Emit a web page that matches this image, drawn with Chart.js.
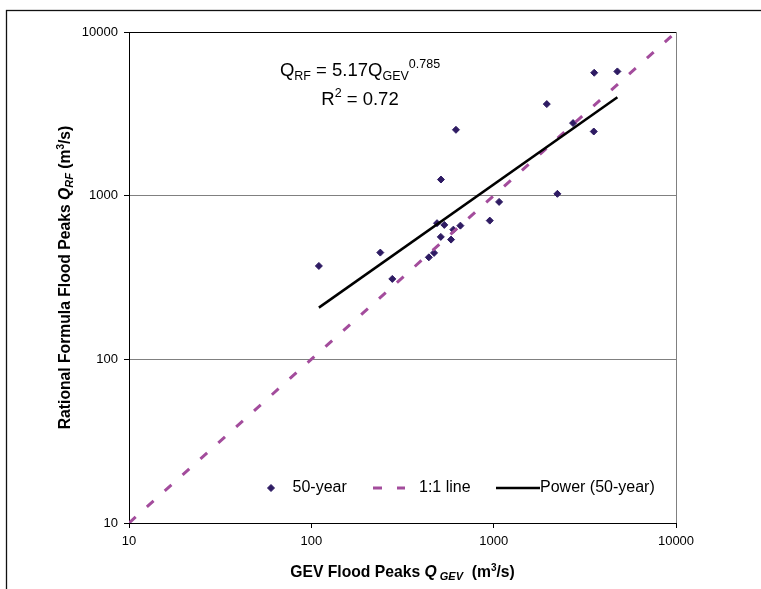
<!DOCTYPE html>
<html>
<head>
<meta charset="utf-8">
<script src="https://cdn.jsdelivr.net/npm/chart.js@4.4.1/dist/chart.umd.min.js"></script>
<style>
  html, body { margin: 0; padding: 0; background: #fff; }
  canvas { display: block; }
</style>
</head>
<body>
<canvas id="chart" width="761" height="589"></canvas>
<script>
// =====================
// Data
// =====================
const gevPeaks = [110, 239, 278, 441, 471, 489, 514, 536, 513, 584, 601, 657, 952, 1071, 621, 1956, 2236, 2726, 3540, 3560, 4770]
const rfPeaks  = [372, 449, 310, 420, 447, 679, 1255, 663, 560, 539, 620, 656, 704, 916, 2526, 3627, 1026, 2776, 2466, 5637, 5741]

const oneToOneX = [10, 10000]
const oneToOneY = [10, 10000]

const powerX = [110, 4770]
const powerY = [207, 3990]

const tickValues = [10, 100, 1000, 10000]
const seriesNames = ["50-year", "1:1 line", "Power (50-year)"]

const eqCoef = "5.17"
const eqExp = "0.785"
const eqR2 = "0.72"

const FONT = "'Liberation Sans', Arial, sans-serif"
const MARKER = "#2e1b63"
const PLUM = "#a34c9c"
const TITLE = 15.7


function toPoints(xs, ys) {
  return xs.map((x, i) => ({ x: x, y: ys[i] }))
}

// draw a row of text pieces (sub/superscripts), centred on x
function drawRuns(ctx, runs, x, y) {
  ctx.textBaseline = "alphabetic"
  ctx.textAlign = "left"
  let total = 0
  runs.forEach(r => {
    ctx.font = r.font
    r.w = ctx.measureText(r.text).width
    total += r.w
  })
  let cx = x - total / 2
  runs.forEach(r => {
    ctx.font = r.font
    ctx.fillText(r.text, cx, y + (r.dy || 0))
    cx += r.w
  })
}


// =====================
// Extra drawing: frame, equation, axis titles, legend
// =====================
const decorations = {
  id: "decorations",

  beforeDraw(chart) {
    const ctx = chart.ctx
    ctx.save()
    ctx.fillStyle = "#fff"
    ctx.fillRect(0, 0, chart.width, chart.height)
    ctx.strokeStyle = "#111"
    ctx.lineWidth = 1.3
    ctx.strokeRect(6.5, 10.5, 900, 900)
    ctx.restore()
  },

  afterDraw(chart) {
    const ctx = chart.ctx
    const a = chart.chartArea
    ctx.save()
    ctx.fillStyle = "#000"

    // trendline equation
    const ex = a.left + 231
    drawRuns(ctx, [
      { text: "Q", font: `18.5px ${FONT}` },
      { text: "RF", font: `12.5px ${FONT}`, dy: 4 },
      { text: " = " + eqCoef + "Q", font: `18.5px ${FONT}` },
      { text: "GEV", font: `12.5px ${FONT}`, dy: 4 },
      { text: eqExp, font: `12.5px ${FONT}`, dy: -8 }
    ], ex, a.top + 43.5)
    drawRuns(ctx, [
      { text: "R", font: `18.5px ${FONT}` },
      { text: "2", font: `12.5px ${FONT}`, dy: -8 },
      { text: " = " + eqR2, font: `18.5px ${FONT}` }
    ], ex, a.top + 73)

    // x axis title
    drawRuns(ctx, [
      { text: "GEV Flood Peaks ", font: `bold ${TITLE}px ${FONT}` },
      { text: "Q", font: `italic bold ${TITLE}px ${FONT}` },
      { text: " GEV", font: `italic bold 11px ${FONT}`, dy: 3 },
      { text: "  (m", font: `bold ${TITLE}px ${FONT}` },
      { text: "3", font: `bold 10px ${FONT}`, dy: -6 },
      { text: "/s)", font: `bold ${TITLE}px ${FONT}` }
    ], (a.left + a.right) / 2, a.bottom + 54)

    // y axis title
    ctx.save()
    ctx.translate(69.5, (a.top + a.bottom) / 2)
    ctx.rotate(-Math.PI / 2)
    drawRuns(ctx, [
      { text: "Rational Formula Flood Peaks ", font: `bold ${TITLE}px ${FONT}` },
      { text: "Q", font: `italic bold ${TITLE}px ${FONT}` },
      { text: "RF", font: `italic bold 11px ${FONT}`, dy: 3 },
      { text: " (m", font: `bold ${TITLE}px ${FONT}` },
      { text: "3", font: `bold 10px ${FONT}`, dy: -6 },
      { text: "/s)", font: `bold ${TITLE}px ${FONT}` }
    ], 0, 0)
    ctx.restore()

    // legend inside the plot
    const ds = chart.data.datasets
    const ly = a.bottom - 35
    ctx.font = `16px ${FONT}`
    ctx.textBaseline = "middle"
    ctx.textAlign = "left"

    const mx = a.left + 142
    ctx.fillStyle = ds[0].pointBackgroundColor
    ctx.strokeStyle = ds[0].pointBorderColor
    ctx.lineWidth = 1
    ctx.beginPath()
    ctx.moveTo(mx - 3.5, ly)
    ctx.lineTo(mx, ly - 3.5)
    ctx.lineTo(mx + 3.5, ly)
    ctx.lineTo(mx, ly + 3.5)
    ctx.closePath()
    ctx.fill()
    ctx.stroke()
    ctx.fillStyle = "#000"
    ctx.fillText(ds[0].label, a.left + 163.5, ly)

    ctx.strokeStyle = ds[1].borderColor
    ctx.lineWidth = ds[1].borderWidth
    ctx.setLineDash(ds[1].borderDash)
    ctx.beginPath()
    ctx.moveTo(a.left + 244, ly)
    ctx.lineTo(a.left + 276, ly)
    ctx.stroke()
    ctx.setLineDash([])
    ctx.fillText(ds[1].label, a.left + 290, ly)

    ctx.strokeStyle = ds[2].borderColor
    ctx.lineWidth = ds[2].borderWidth
    ctx.beginPath()
    ctx.moveTo(a.left + 367, ly)
    ctx.lineTo(a.left + 411, ly)
    ctx.stroke()
    ctx.fillText(ds[2].label, a.left + 411, ly)

    ctx.restore()
  }
}


// =====================
// Chart
// =====================
function logAxis(isX) {
  return {
    type: "logarithmic",
    min: 10,
    max: 10000,
    afterBuildTicks: s => { s.ticks = tickValues.map(v => ({ value: v })) },
    afterFit: s => {
      if (isX) s.height = 66
      else s.width = 129
    },
    ticks: {
      callback: v => String(v),
      font: { family: FONT, size: 13 },
      color: "#000",
      padding: 6,
      autoSkip: false,
      maxRotation: 0
    },
    grid: {
      color: c => {
        const v = c.tick ? c.tick.value : 0
        if (isX) return v === 10000 ? "#808080" : "rgba(0,0,0,0)"
        if (v === 10000) return "#000"
        if (v === 10) return "rgba(0,0,0,0)"
        return "#808080"
      },
      tickColor: "#000",
      tickLength: 5,
      lineWidth: 1
    },
    border: { color: "#000", width: 1 }
  }
}

const chart = new Chart(document.getElementById("chart"), {
  type: "scatter",
  data: {
    datasets: [
      {
        label: seriesNames[0],
        data: toPoints(gevPeaks, rfPeaks),
        showLine: false,
        pointStyle: "rectRot",
        pointRadius: 3.5,
        pointBorderWidth: 1,
        pointBackgroundColor: MARKER,
        pointBorderColor: MARKER,
        order: 3
      },
      {
        label: seriesNames[1],
        data: toPoints(oneToOneX, oneToOneY),
        showLine: true,
        borderColor: PLUM,
        borderWidth: 3,
        borderDash: [9, 15],
        pointRadius: 0,
        order: 2
      },
      {
        label: seriesNames[2],
        data: toPoints(powerX, powerY),
        showLine: true,
        borderColor: "#000",
        borderWidth: 2.5,
        pointRadius: 0,
        order: 1
      }
    ]
  },
  options: {
    animation: false,
    responsive: false,
    devicePixelRatio: 1,
    layout: { padding: { left: 0, top: 32, right: 85, bottom: 0 } },
    plugins: {
      legend: { display: false },
      tooltip: { enabled: false }
    },
    scales: {
      x: logAxis(true),
      y: logAxis(false)
    }
  },
  plugins: [decorations]
})
</script>
</body>
</html>
